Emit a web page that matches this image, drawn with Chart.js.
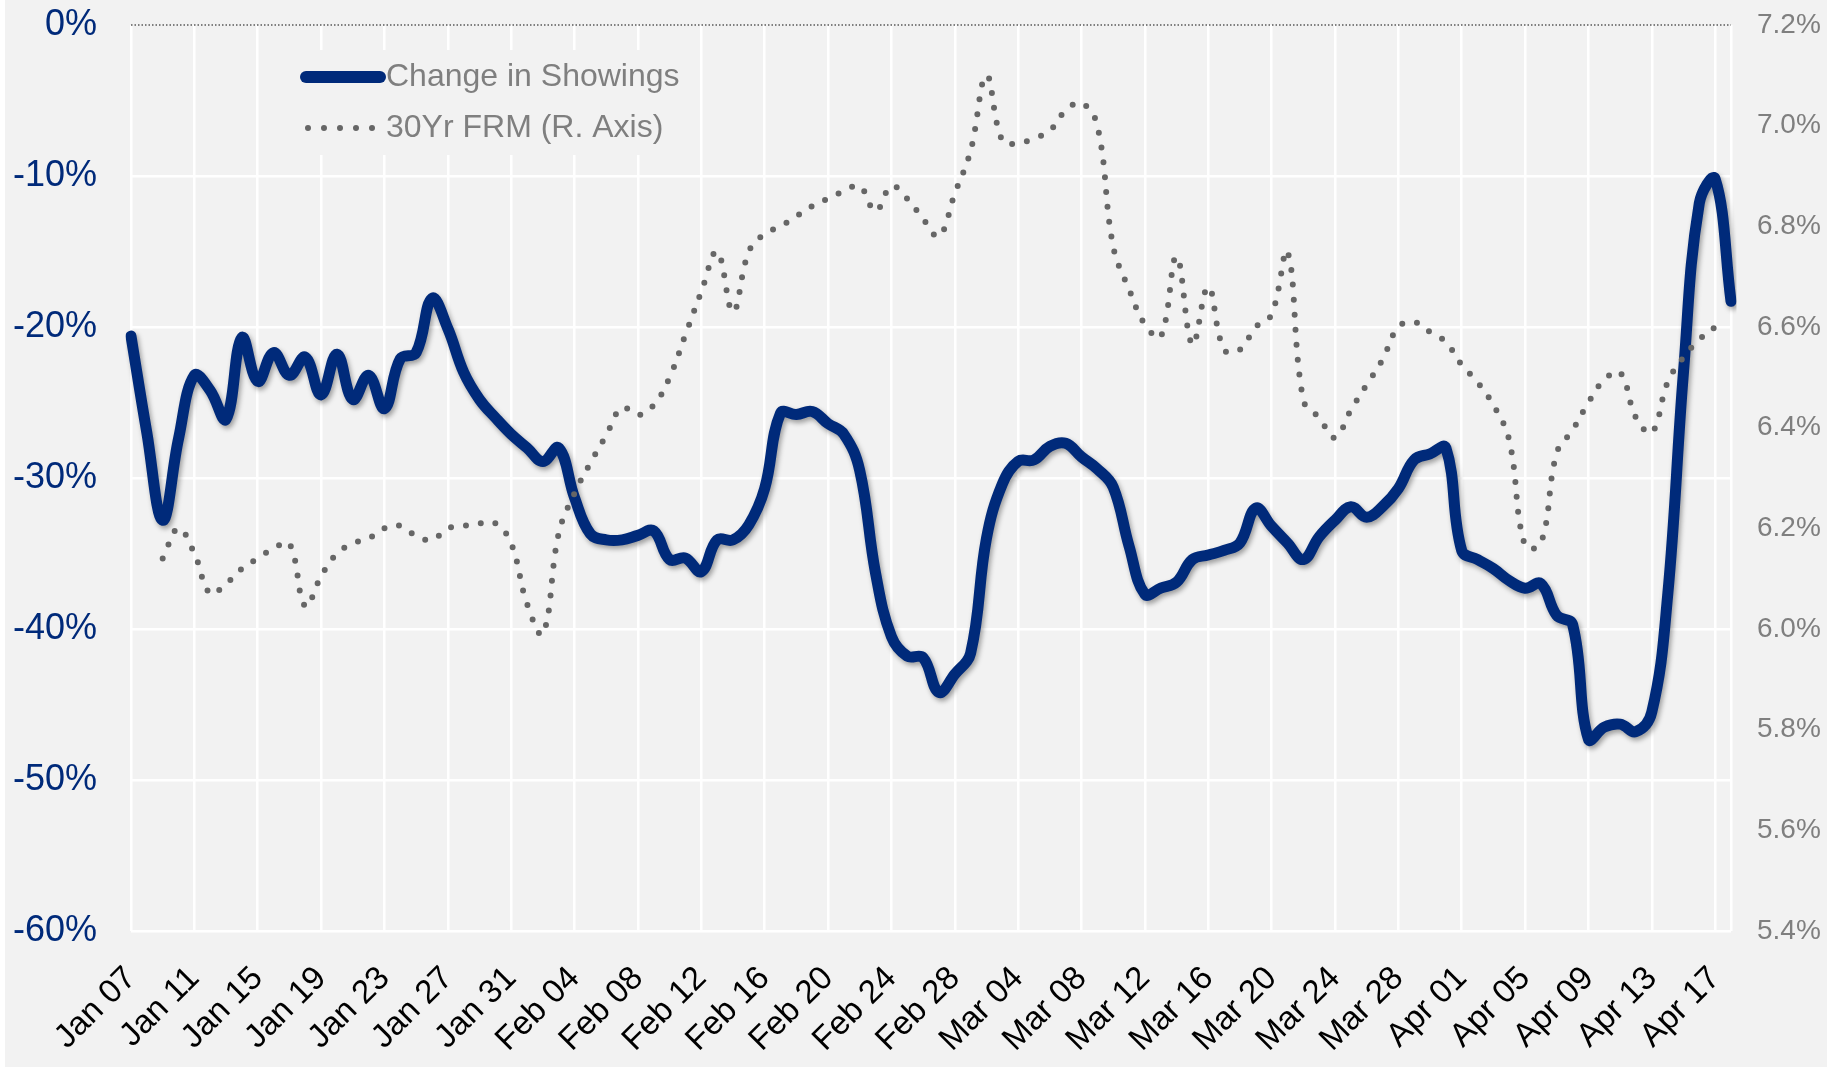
<!DOCTYPE html>
<html>
<head>
<meta charset="utf-8">
<title>Change in Showings vs 30Yr FRM</title>
<script src="https://cdn.jsdelivr.net/npm/chart.js@4.4.0/dist/chart.umd.min.js"></script>
<style>
  html, body { margin: 0; padding: 0; background: #ffffff; }
  #wrap { width: 1843px; height: 1067px; }
</style>
</head>
<body>
<div id="wrap"><canvas id="chart" width="1843" height="1067"></canvas></div>
<script>
// daily categories, Jan 07 .. Apr 18
const dates = [
  'Jan 07','Jan 08','Jan 09','Jan 10','Jan 11','Jan 12','Jan 13','Jan 14','Jan 15','Jan 16','Jan 17','Jan 18','Jan 19',
  'Jan 20','Jan 21','Jan 22','Jan 23','Jan 24','Jan 25','Jan 26','Jan 27','Jan 28','Jan 29','Jan 30','Jan 31',
  'Feb 01','Feb 02','Feb 03','Feb 04','Feb 05','Feb 06','Feb 07','Feb 08','Feb 09','Feb 10','Feb 11','Feb 12','Feb 13','Feb 14',
  'Feb 15','Feb 16','Feb 17','Feb 18','Feb 19','Feb 20','Feb 21','Feb 22','Feb 23','Feb 24','Feb 25','Feb 26','Feb 27','Feb 28',
  'Mar 01','Mar 02','Mar 03','Mar 04','Mar 05','Mar 06','Mar 07','Mar 08','Mar 09','Mar 10','Mar 11','Mar 12','Mar 13','Mar 14','Mar 15','Mar 16',
  'Mar 17','Mar 18','Mar 19','Mar 20','Mar 21','Mar 22','Mar 23','Mar 24','Mar 25','Mar 26','Mar 27','Mar 28','Mar 29','Mar 30','Mar 31',
  'Apr 01','Apr 02','Apr 03','Apr 04','Apr 05','Apr 06','Apr 07','Apr 08','Apr 09','Apr 10','Apr 11','Apr 12','Apr 13','Apr 14',
  'Apr 15','Apr 16','Apr 17','Apr 18'
];

// change in showings, % (left axis)
const showings = [
  -20.6, -27.0, -32.8, -27.4, -23.2, -24.2, -26.1, -20.7, -23.6, -21.7, -23.2, -22.0, -24.5,
  -21.8, -24.8, -23.2, -25.4, -22.1, -21.7, -18.1, -20.1, -23.0, -24.8, -26.0, -27.1,
  -28.0, -28.9, -28.0, -31.3, -33.7, -34.1, -34.1, -33.8, -33.5, -35.4, -35.3, -36.2, -34.1, -34.1,
  -33.1, -30.7, -25.7, -25.8, -25.6, -26.4, -27.1, -29.5, -36.3, -40.5, -41.8, -41.9, -44.2, -43.0,
  -41.6, -34.0, -30.4, -28.9, -28.8, -27.9, -27.7, -28.6, -29.4, -30.6, -34.5, -37.7, -37.3, -36.9, -35.4, -35.1,
  -34.8, -34.3, -32.0, -33.2, -34.3, -35.4, -33.9, -32.8, -31.9, -32.6, -31.9, -30.7, -28.8, -28.4, -28.0,
  -34.8, -35.4, -36.0, -36.8, -37.3, -37.0, -39.1, -39.7, -47.3, -46.5, -46.3, -46.8, -45.5, -37.8,
  -23.0, -11.8, -10.2, -18.3
];

// 30yr fixed mortgage rate, % (right axis)
const frm = [
  null, null, 6.14, 6.20, 6.15, 6.07, 6.09, 6.12, 6.14, 6.16, 6.17, 6.045, 6.105,
  6.15, 6.17, 6.18, 6.20, 6.205, 6.185, 6.177, 6.20, 6.205, 6.21, 6.21, 6.17,
  6.05, 5.99, 6.19, 6.27, 6.33, 6.385, 6.44, 6.425, 6.445, 6.50, 6.585, 6.67, 6.75, 6.63,
  6.75, 6.785, 6.80, 6.82, 6.84, 6.855, 6.87, 6.88, 6.83, 6.88, 6.855, 6.815, 6.78, 6.865,
  6.95, 7.10, 6.97, 6.965, 6.975, 6.99, 7.03, 7.045, 7.00, 6.76, 6.675, 6.605, 6.58, 6.74, 6.565, 6.68,
  6.555, 6.555, 6.60, 6.625, 6.75, 6.455, 6.42, 6.38, 6.435, 6.485, 6.535, 6.60, 6.61, 6.59, 6.57,
  6.525, 6.49, 6.445, 6.375, 6.165, 6.17, 6.35, 6.395, 6.45, 6.495, 6.51, 6.42, 6.39, 6.49,
  6.54, 6.575, 6.60, null
];

const NAVY = '#002a7a';
const DOTS = '#666666';
const GREY_TEXT = '#7f7f7f';
const BG = '#f2f2f2';
const FONT = "'Liberation Sans', Arial, sans-serif";

Chart.defaults.font.family = FONT;

// page background panel
const bgPanel = {
  id: 'bgPanel',
  beforeDraw(chart) {
    const ctx = chart.ctx;
    ctx.save();
    ctx.fillStyle = BG;
    ctx.fillRect(5, 0, 1822, chart.height);
    ctx.restore();
  }
};

// dotted 0% line + in-plot legend + line shadow
const overlay = {
  id: 'overlay',
  beforeDatasetsDraw(chart) {
    const ctx = chart.ctx;
    const area = chart.chartArea;
    const y0 = chart.scales.y.getPixelForValue(0);
    ctx.save();

    // legend box hides the grid behind it
    const ds = chart.data.datasets;
    ctx.fillStyle = BG;
    ctx.fillRect(295, 50, 395, 105);

    ctx.strokeStyle = '#595959';
    ctx.lineWidth = 1.5;
    ctx.setLineDash([1.5, 2]);
    ctx.beginPath();
    ctx.moveTo(area.left, y0);
    ctx.lineTo(area.right, y0);
    ctx.stroke();

    ctx.setLineDash([]);
    ctx.lineCap = 'round';
    ctx.strokeStyle = NAVY;
    ctx.lineWidth = 12;
    ctx.beginPath();
    ctx.moveTo(306, 77);
    ctx.lineTo(380, 77);
    ctx.stroke();

    ctx.strokeStyle = DOTS;
    ctx.lineWidth = 6;
    ctx.setLineDash([0, 16]);
    ctx.beginPath();
    ctx.moveTo(308, 128);
    ctx.lineTo(374, 128);
    ctx.stroke();

    ctx.fillStyle = GREY_TEXT;
    ctx.font = '32px ' + FONT;
    ctx.textBaseline = 'middle';
    ctx.fillText(ds[0].label, 386, 77);
    ctx.fillText(ds[1].label, 386, 128);
    ctx.restore();
  },
  beforeDatasetDraw(chart, args) {
    if (args.index !== 0) return;
    const ctx = chart.ctx;
    ctx.save();
    ctx.shadowColor = 'rgba(0,0,0,0.35)';
    ctx.shadowBlur = 5;
    ctx.shadowOffsetX = 2;
    ctx.shadowOffsetY = 3;
  },
  afterDatasetDraw(chart, args) {
    if (args.index !== 0) return;
    chart.ctx.restore();
  }
};

new Chart(document.getElementById('chart'), {
  type: 'line',
  data: {
    labels: dates,
    datasets: [
      {
        label: 'Change in Showings',
        data: showings,
        yAxisID: 'y',
        borderColor: NAVY,
        borderWidth: 11,
        borderCapStyle: 'round',
        borderJoinStyle: 'round',
        tension: 0.4,
        pointRadius: 0,
        fill: false,
        order: 2
      },
      {
        label: '30Yr FRM (R. Axis)',
        data: frm,
        yAxisID: 'y1',
        borderColor: DOTS,
        borderWidth: 6,
        borderDash: [0, 15],
        borderCapStyle: 'round',
        tension: 0.4,
        pointRadius: 0,
        fill: false,
        order: 1
      }
    ]
  },
  options: {
    responsive: false,
    animation: false,
    devicePixelRatio: 1,
    layout: { padding: { top: 25, left: 0, right: 0, bottom: 0 } },
    plugins: { legend: { display: false }, tooltip: { enabled: false } },
    scales: {
      x: {
        type: 'category',
        offset: false,
        grid: { color: '#ffffff', lineWidth: 2.5, drawTicks: false },
        border: { display: false },
        ticks: {
          autoSkip: false,
          maxRotation: 45,
          minRotation: 45,
          color: '#000000',
          padding: 28,
          font: { size: 33 },
          callback(val, i) {
            if (i % 4 === 0) return this.getLabelForValue(val);
            if (i === dates.length - 1) return '';
            return null;
          }
        },
        afterFit(s) { s.height = 136; s.paddingLeft = 0; s.paddingRight = 0; }
      },
      y: {
        position: 'left',
        min: -60,
        max: 0,
        grid: {
          color: c => (c.tick && c.tick.value === 0) ? 'rgba(0,0,0,0)' : '#ffffff',
          lineWidth: 2.5,
          drawTicks: false
        },
        border: { display: false },
        ticks: {
          stepSize: 10,
          color: NAVY,
          padding: 34,
          font: { size: 36 },
          callback: v => v + '%'
        },
        afterFit(s) { s.width = 131; s.paddingTop = 0; s.paddingBottom = 0; }
      },
      y1: {
        position: 'right',
        min: 5.4,
        max: 7.2,
        grid: { drawOnChartArea: false, drawTicks: false },
        border: { display: false },
        ticks: {
          stepSize: 0.2,
          color: GREY_TEXT,
          padding: 26,
          font: { size: 28 },
          callback: v => v.toFixed(1) + '%'
        },
        afterFit(s) { s.width = 112; s.paddingTop = 0; s.paddingBottom = 0; }
      }
    }
  },
  plugins: [bgPanel, overlay]
});
</script>
</body>
</html>
